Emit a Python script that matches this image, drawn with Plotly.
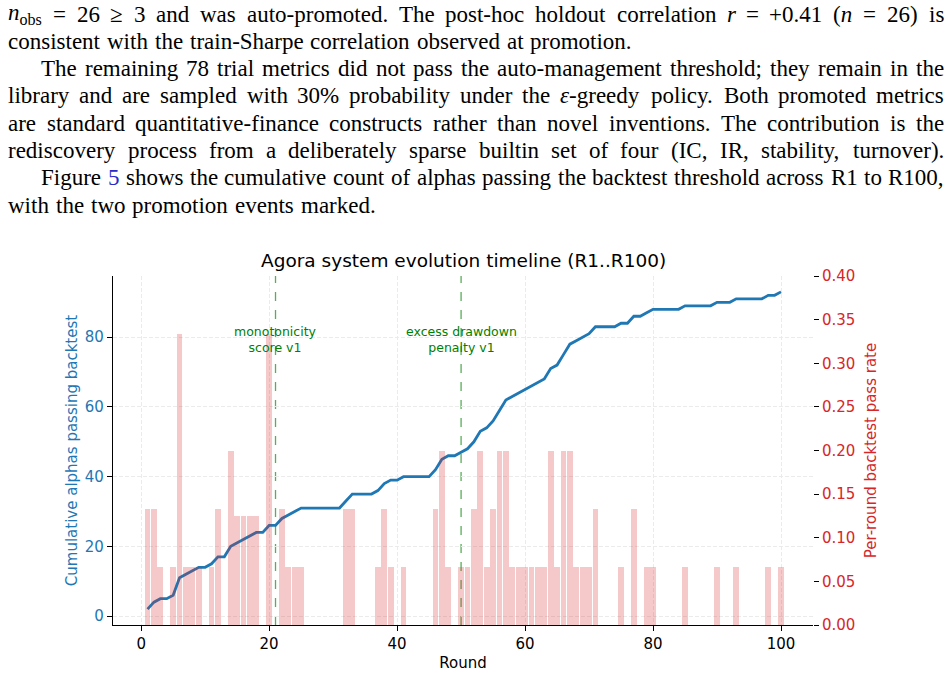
import re
import plotly.graph_objects as go

# ---------------- data ----------------
rounds = list(range(1, 101))

cumulative_passing = [
    2, 4, 5, 5, 6, 11, 12, 13, 14, 14,
    15, 17, 17, 20, 21, 22, 23, 24, 24, 26,
    26, 28, 29, 30, 31, 31, 31, 31, 31, 31,
    31, 33, 35, 35, 35, 35, 36, 38, 39, 39,
    40, 40, 40, 40, 40, 42, 45, 46, 46, 47,
    48, 50, 53, 54, 56, 59, 62, 63, 64, 65,
    66, 67, 68, 71, 72, 75, 78, 79, 80, 81,
    83, 83, 83, 83, 84, 84, 86, 86, 87, 88,
    88, 88, 88, 88, 89, 89, 89, 89, 89, 90,
    90, 90, 91, 91, 91, 91, 91, 92, 92, 93,
]

pass_rate = [
    0.1333, 0.1333, 0.0667, 0.0, 0.0667, 0.3333, 0.0667, 0.0667, 0.0667, 0.0,
    0.0667, 0.1333, 0.0, 0.2, 0.125, 0.125, 0.125, 0.125, 0.0, 0.3333,
    0.0, 0.1333, 0.0667, 0.0667, 0.0667, 0.0, 0.0, 0.0, 0.0, 0.0,
    0.0, 0.1333, 0.1333, 0.0, 0.0, 0.0, 0.0667, 0.1333, 0.0667, 0.0,
    0.0667, 0.0, 0.0, 0.0, 0.0, 0.1333, 0.2, 0.0667, 0.0, 0.0667,
    0.0667, 0.1333, 0.2, 0.0667, 0.1333, 0.2, 0.2, 0.0667, 0.0667, 0.0667,
    0.0667, 0.0667, 0.0667, 0.2, 0.0667, 0.2, 0.2, 0.0667, 0.0667, 0.0667,
    0.1333, 0.0, 0.0, 0.0, 0.0667, 0.0, 0.1333, 0.0, 0.0667, 0.0667,
    0.0, 0.0, 0.0, 0.0, 0.0667, 0.0, 0.0, 0.0, 0.0, 0.0667,
    0.0, 0.0, 0.0667, 0.0, 0.0, 0.0, 0.0, 0.0667, 0.0, 0.0667,
]

x_ticks = [0, 20, 40, 60, 80, 100]
left_ticks = [0, 20, 40, 60, 80]
right_ticks = [0.00, 0.05, 0.10, 0.15, 0.20, 0.25, 0.30, 0.35, 0.40]
right_tick_labels = ["0.00", "0.05", "0.10", "0.15", "0.20", "0.25", "0.30", "0.35", "0.40"]

promotion_rounds = [21, 50]
promotion_labels = ["monotonicity<br>score v1", "excess drawdown<br>penalty v1"]

chart_title = "Agora system evolution timeline (R1..R100)"
x_title = "Round"
left_title = "Cumulative alphas passing backtest"
right_title = "Per-round backtest pass rate"

LINK = "#2a2ac8"
# (indented, justified, text); {5} marks the blue cross-reference number
paragraph_lines = [
    (False, True, "<i>n</i><sub>obs</sub> = 26 ≥ 3 and was auto-promoted. The post-hoc holdout correlation <i>r</i> = +0.41 (<i>n</i> = 26) is"),
    (False, False, "consistent with the train-Sharpe correlation observed at promotion."),
    (True, True, "The remaining 78 trial metrics did not pass the auto-management threshold; they remain in the"),
    (False, True, "library and are sampled with 30% probability under the <i>ε</i>-greedy policy. Both promoted metrics"),
    (False, True, "are standard quantitative-finance constructs rather than novel inventions. The contribution is the"),
    (False, True, "rediscovery process from a deliberately sparse builtin set of four (IC, IR, stability, turnover)."),
    (True, True, "Figure {5} shows the cumulative count of alphas passing the backtest threshold across R1 to R100,"),
    (False, False, "with the two promotion events marked."),
]

# ---------------- colours / layout constants ----------------
BLUE = "#1f77b4"
RED = "#d62728"
GRID = "#ebebeb"
W, H = 950, 675
PX0, PX1, PY0, PY1 = 113, 813, 276, 625   # plot area in pixels

# ---------------- text width helper (Times metrics) ----------------
_groups = {
    250: " ,.", 278: "ijlt:;/", 333: "fr()-!'I[]", 389: "sJ", 444: "acez?",
    500: "bdghknopquvxy0123456789*#$", 556: "FPS", 564: "+=<>", 611: "ELTZ",
    667: "BCR", 722: "ADGHKNOUVXYw", 778: "m&", 833: "%", 889: "M", 944: "W",
}
CW = {}
for wv, chars in _groups.items():
    for c in chars:
        CW[c] = wv
CW["≥"] = 549
CW["ε"] = 439


def strip(s):
    return re.sub(r"<[^>]+>", "", s).replace("{", "").replace("}", "")


def word_units(word):
    total = 0.0
    for part in re.split(r"(<sub>.*?</sub>)", word):
        t = strip(part)
        u = sum(CW.get(c, 500) for c in t)
        total += u * (0.7 if part.startswith("<sub>") else 1.0)
    return total / 1000.0


def to_html(word):
    return re.sub(r"\{(.*?)\}", lambda m: "<span style='color:" + LINK + "'>" + m.group(1) + "</span>", word)


def px_x(px):
    return (px - PX0) / (PX1 - PX0)


def px_y(py):
    return (PY1 - py) / (PY1 - PY0)


TEXT_L, TEXT_R, INDENT = 7, 943, 40
LINE_Y0, LINE_DY = 14, 27.3

size = 23.0
for ind, just, txt in paragraph_lines:
    if just:
        words = txt.split(" ")
        wu = sum(word_units(w) for w in words)
        avail = TEXT_R - (INDENT if ind else TEXT_L)
        size = min(size, avail / (wu + 0.15 * (len(words) - 1)))

text_annotations = []
for i, (ind, just, txt) in enumerate(paragraph_lines):
    words = txt.split(" ")
    widths = [word_units(w) * size for w in words]
    x0 = INDENT if ind else TEXT_L
    if just and len(words) > 1:
        gap = (TEXT_R - x0 - sum(widths)) / (len(words) - 1)
    else:
        gap = 0.3 * size
    x = x0
    y = LINE_Y0 + i * LINE_DY
    for w, wd in zip(words, widths):
        text_annotations.append(dict(
            x=px_x(x), y=px_y(y), xref="paper", yref="paper",
            text=to_html(w), showarrow=False, xanchor="left", yanchor="middle",
            borderpad=0, font=dict(family="Liberation Serif", size=size, color="black"),
        ))
        x += wd + gap

# ---------------- figure ----------------
fig = go.Figure()
fig.add_trace(go.Scatter(
    x=rounds, y=cumulative_passing, mode="lines",
    line=dict(color=BLUE, width=2.8), yaxis="y", hoverinfo="skip",
))
fig.add_trace(go.Bar(
    x=rounds, y=pass_rate, width=0.9, yaxis="y2",
    marker=dict(color="rgba(214,39,40,0.25)", line=dict(width=0)),
))

shapes = []
annotations = list(text_annotations)
for r, lab in zip(promotion_rounds, promotion_labels):
    shapes.append(dict(
        type="line", xref="x", yref="paper", x0=r, x1=r, y0=0, y1=1,
        line=dict(color="rgba(0,128,0,0.65)", width=1.3, dash="dash"), layer="below",
    ))
    annotations.append(dict(
        x=r, y=79.4, xref="x", yref="y", text=lab, showarrow=False,
        xanchor="center", yanchor="middle",
        font=dict(family="DejaVu Sans", size=12.5, color="green"),
    ))

annotations.append(dict(
    x=(463 - PX0) / (PX1 - PX0), y=px_y(260), xref="paper", yref="paper", text=chart_title,
    showarrow=False, xanchor="center", yanchor="middle",
    font=dict(family="DejaVu Sans", size=18.5, color="black"),
))

axis_font = dict(family="DejaVu Sans", size=15)

fig.update_layout(
    width=W, height=H,
    margin=dict(l=PX0, r=W - PX1, t=PY0, b=H - PY1, pad=0),
    paper_bgcolor="white", plot_bgcolor="white",
    showlegend=False, bargap=0,
    font=dict(family="DejaVu Sans", size=15, color="black"),
    shapes=shapes, annotations=annotations,
    xaxis=dict(
        range=[-4.4, 105.0], tickvals=x_ticks, ticks="outside", ticklen=5,
        tickcolor="black", tickwidth=1, showline=True, linecolor="black", linewidth=1.3,
        showgrid=True, gridcolor=GRID, griddash="4px,2px", gridwidth=1, zeroline=False,
        tickfont=dict(axis_font, color="black"),
        title=dict(text=x_title, font=dict(axis_font, color="black"), standoff=5),
        automargin=False,
    ),
    yaxis=dict(
        range=[-2.55, 97.55], tickvals=left_ticks, ticks="outside", ticklen=5,
        tickcolor="black", tickwidth=1, showline=True, linecolor="black", linewidth=1.3,
        showgrid=True, gridcolor=GRID, griddash="4px,2px", gridwidth=1, zeroline=False,
        tickfont=dict(axis_font, color=BLUE),
        title=dict(text=left_title, font=dict(axis_font, color=BLUE), standoff=3),
        automargin=False,
    ),
    yaxis2=dict(
        overlaying="y", side="right", range=[0, 0.4],
        tickvals=right_ticks, ticktext=right_tick_labels,
        ticks="outside", ticklen=5, tickcolor="black", tickwidth=1,
        showline=False, showgrid=False, zeroline=False,
        tickfont=dict(axis_font, color=RED),
        title=dict(text=right_title, font=dict(axis_font, color=RED), standoff=11),
        automargin=False,
    ),
)

fig.write_html("out.html")
